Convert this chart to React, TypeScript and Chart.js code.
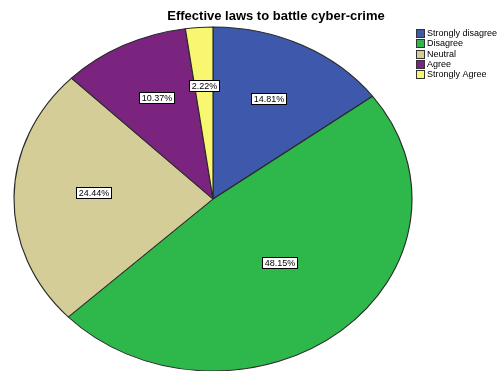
import React, { useEffect, useRef } from "react";
import { Chart, registerables } from "chart.js";

Chart.register(...registerables);

const title = "Effective laws to battle cyber-crime";
const categories = ["Strongly disagree", "Disagree", "Neutral", "Agree", "Strongly Agree"];
const percentages = [14.81, 48.15, 24.44, 10.37, 2.22];
const sliceColors = ["#3e59ab", "#2eb84c", "#d4cd98", "#7a2480", "#f9f770"];

const CX = 213;
const CY = 199;
const RX = 199;
const RY = 172;
const SX = RX / RY;
const FONT = "Arial, 'Liberation Sans', sans-serif";

const ellipsePlugin = {
  id: "ellipse",
  beforeDatasetsDraw(chart: any) {
    const ctx = chart.ctx;
    ctx.save();
    ctx.translate(CX, CY);
    ctx.scale(SX, 1);
    ctx.translate(-CX, -CY);
  },
  afterDatasetsDraw(chart: any) {
    const ctx = chart.ctx;
    ctx.restore();
    // slice labels, placed near each sector's centroid
    const meta = chart.getDatasetMeta(0);
    ctx.save();
    ctx.font = `9px ${FONT}`;
    ctx.textAlign = "center";
    ctx.textBaseline = "middle";
    meta.data.forEach((arc: any, i: number) => {
      const mid = (arc.startAngle + arc.endAngle) / 2;
      const half = (arc.endAngle - arc.startAngle) / 2;
      const c = half > 0 ? (2 * Math.sin(half)) / (3 * half) : 0.667;
      const f = 0.3 + 0.5 * c;
      const x = CX + Math.cos(mid) * RX * f;
      const y = CY + Math.sin(mid) * RY * f - 5;
      const txt = percentages[i].toFixed(2) + "%";
      const w = Math.round(ctx.measureText(txt).width + 4);
      const h = 11;
      const bx = Math.round(x - w / 2) + 0.5;
      const by = Math.round(y - h / 2) + 0.5;
      ctx.fillStyle = "#ffffff";
      ctx.fillRect(bx, by, w, h);
      ctx.strokeStyle = "#000000";
      ctx.lineWidth = 1;
      ctx.strokeRect(bx, by, w, h);
      ctx.fillStyle = "#000000";
      ctx.fillText(txt, bx + w / 2, by + h / 2 + 0.5);
    });
    ctx.restore();
  },
  afterDraw(chart: any) {
    const ctx = chart.ctx;
    ctx.save();
    // title
    ctx.font = `bold 13px ${FONT}`;
    ctx.fillStyle = "#000000";
    ctx.textAlign = "center";
    ctx.textBaseline = "middle";
    ctx.fillText(title, 276, 16);
    // legend
    ctx.font = `9px ${FONT}`;
    ctx.textAlign = "left";
    categories.forEach((c, i) => {
      const y = 29 + i * 10.3;
      ctx.fillStyle = sliceColors[i];
      ctx.fillRect(416.5, Math.round(y) + 0.5, 8, 8);
      ctx.strokeStyle = "#333333";
      ctx.lineWidth = 1;
      ctx.strokeRect(416.5, Math.round(y) + 0.5, 8, 8);
      ctx.fillStyle = "#000000";
      ctx.fillText(c, 427, Math.round(y) + 5);
    });
    ctx.restore();
  },
};

export default function App() {
  const ref = useRef<HTMLCanvasElement>(null);
  useEffect(() => {
    document.body.style.margin = "0";
    const chart = new Chart(ref.current!, {
      type: "pie",
      data: {
        labels: categories,
        datasets: [
          {
            data: percentages,
            backgroundColor: sliceColors,
            borderColor: "#2a2a2a",
            borderWidth: 1,
          },
        ],
      },
      options: {
        responsive: false,
        animation: false,
        radius: RY,
        layout: {
          padding: { left: CX - RY, right: 503 - (CX + RY), top: CY - RY, bottom: 371 - (CY + RY) },
        },
        plugins: {
          legend: { display: false },
          title: { display: false },
          tooltip: { enabled: false },
        },
      } as any,
      plugins: [ellipsePlugin],
    });
    return () => chart.destroy();
  }, []);
  return <canvas ref={ref} width={503} height={371} style={{ display: "block" }} />;
}
